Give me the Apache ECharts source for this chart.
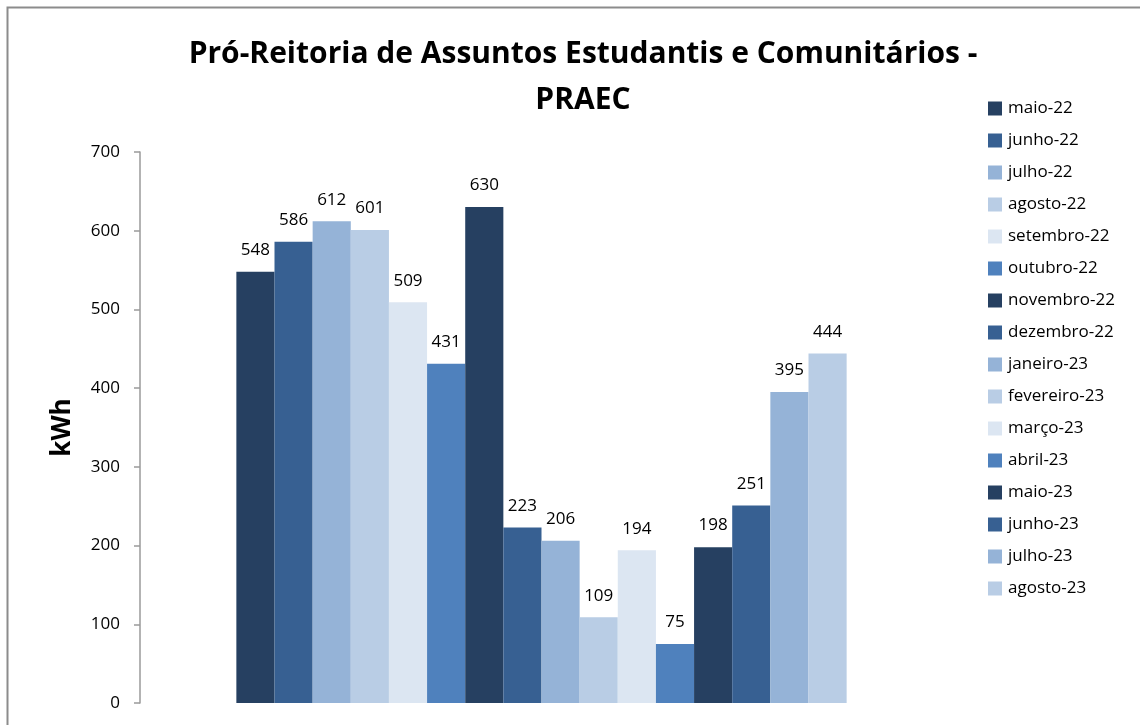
<!DOCTYPE html>
<html>
<head>
<meta charset="UTF-8">
<title>PRAEC</title>
<script type="text/javascript" src="https://cdn.jsdelivr.net/npm/echarts@6/dist/echarts.min.js"></script>
<style type="text/css">
html, body {
	margin: 0;
	padding: 0;
	background-color: #FFFFFF;
}
#main {
	width: 1140px;
	height: 725px;
}
</style>
</head>
<body>
	<div id="main"></div>
</body>
<script type="text/javascript">
	var months = [ 'maio-22', 'junho-22', 'julho-22', 'agosto-22',
			'setembro-22', 'outubro-22', 'novembro-22', 'dezembro-22',
			'janeiro-23', 'fevereiro-23', 'março-23', 'abril-23', 'maio-23',
			'junho-23', 'julho-23', 'agosto-23' ];
	var consumo = [ 548, 586, 612, 601, 509, 431, 630, 223, 206, 109, 194,
			75, 198, 251, 395, 444 ];
	var palette = [ '#264061', '#376092', '#95B3D7', '#B9CDE5', '#DCE6F2',
			'#4F81BD' ];

	var fontFam = "'Open Sans', 'Noto Sans', sans-serif";

	function initChart() {
		var myChart = echarts.init(document.getElementById('main'));
		var series = [];
		for (var i = 0; i < months.length; i++) {
			series.push({
				name : months[i],
				type : 'bar',
				barGap : '0%',
				barCategoryGap : '24%',
				data : [ consumo[i] ],
				itemStyle : {
					color : palette[i % palette.length]
				},
				label : {
					show : true,
					position : 'top',
					distance : 13,
					color : '#000000',
					fontFamily : fontFam,
					fontSize : 17
				}
			});
		}
		var option = {
			animation : false,
			title : {
				text : 'Pró-Reitoria de Assuntos Estudantis e Comunitários -\nPRAEC',
				left : 578,
				top : 26,
				textAlign : 'center',
				textStyle : {
					fontFamily : fontFam,
					fontWeight : 'bold',
					fontSize : 30,
					lineHeight : 46,
					color : '#000000'
				}
			},
			legend : {
				orient : 'vertical',
				left : 983,
				top : 95,
				itemWidth : 14,
				itemHeight : 14,
				itemGap : 15,
				icon : 'rect',
				textStyle : {
					fontFamily : fontFam,
					fontSize : 17,
					color : '#000000',
					padding : [ 0, 0, 0, 1 ]
				},
				data : months
			},
			grid : {
				left : 140,
				right : 197,
				top : 152,
				bottom : 22,
				containLabel : false
			},
			xAxis : {
				type : 'category',
				data : [ '' ],
				axisLine : {
					show : false
				},
				axisTick : {
					show : false
				},
				axisLabel : {
					show : false
				}
			},
			yAxis : {
				type : 'value',
				min : 0,
				max : 700,
				interval : 100,
				name : 'kWh',
				nameLocation : 'middle',
				nameGap : 64,
				nameTextStyle : {
					fontFamily : fontFam,
					fontWeight : 'bold',
					fontSize : 26,
					color : '#000000'
				},
				axisLine : {
					show : true,
					lineStyle : {
						color : '#9A9A9A',
						width : 1.5
					}
				},
				axisTick : {
					show : true,
					length : 6,
					lineStyle : {
						color : '#9A9A9A',
						width : 1.5
					}
				},
				axisLabel : {
					margin : 20,
					color : '#000000',
					fontFamily : fontFam,
					fontSize : 17
				},
				splitLine : {
					show : false
				}
			},
			graphic : [ {
				type : 'rect',
				shape : {
					x : 7.5,
					y : 7.5,
					width : 1200,
					height : 800
				},
				style : {
					fill : 'none',
					stroke : '#8C8C8C',
					lineWidth : 2
				},
				silent : true
			} ],
			series : series
		};
		myChart.setOption(option);
	}
	initChart();
</script>
</html>
